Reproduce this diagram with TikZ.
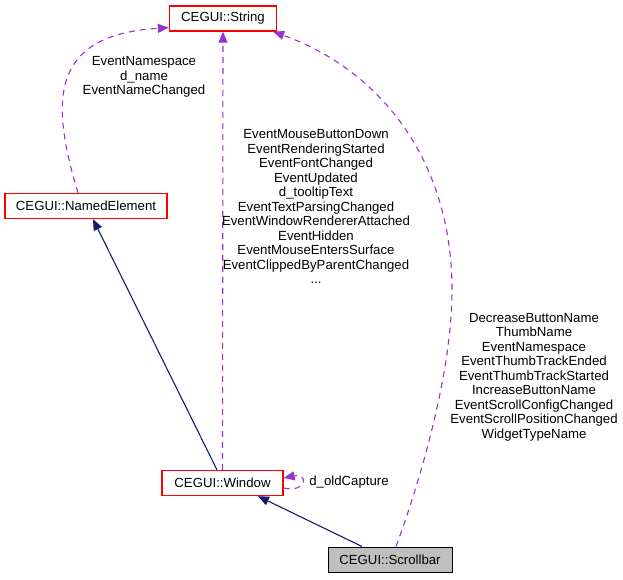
\documentclass[tikz,border=0pt]{standalone}
\usepackage{fontspec}
\setmainfont{Liberation Sans}
\usetikzlibrary{arrows.meta}

\definecolor{usecol}{RGB}{154,50,205}
\definecolor{inhcol}{RGB}{25,25,112}
\definecolor{leafgray}{RGB}{191,191,191}

\begin{document}
\begin{tikzpicture}[x=1pt,y=-1pt,
  font=\fontsize{13.2}{14.5}\selectfont,
  cls/.style={draw=red, line width=1.3pt, fill=white, inner sep=0pt, minimum height=25pt},
  leaf/.style={cls, draw=black, line width=1pt, fill=leafgray},
  usage/.style={draw=usecol, line width=1.1pt, dash pattern=on 6pt off 5pt, -{Triangle[length=11pt,width=9pt]}},
  inherit/.style={draw=inhcol, line width=1.1pt, -{Triangle[length=11pt,width=9pt]}},
  lbl/.style={align=center, inner sep=0pt}]
        \useasboundingbox (0,0) rectangle (623,579);

        % classes
        \node[cls, minimum width=107pt] (str) at (223,18.5) {CEGUI::String};
        \node[cls, minimum width=162pt] (ne) at (86,206) {CEGUI::NamedElement};
        \node[cls, minimum width=121pt] (win) at (222.5,483) {CEGUI::Window};
        \node[leaf, minimum width=124pt] (sb) at (390,559.5) {CEGUI::Scrollbar};

        % inheritance
        \draw[inherit] ([xshift=-5.5pt]win.north) -- ([xshift=7pt]ne.south);
        \draw[inherit] ([xshift=-28pt]sb.north) -- ([xshift=35.5pt]win.south);

        % usage
        \draw[usage] ([xshift=-8pt]ne.north) .. controls (50,100) and (50,35) .. ([yshift=4pt]str.south west);
        \draw[usage] (win.north) -- (str.south);
        \draw[usage] ([xshift=6pt]sb.north) .. controls (415,495) and (452,380) .. (452,290)
                     .. controls (452,160) and (380,70) .. ([xshift=-4pt]str.south east);
        \draw[usage] ([yshift=-5pt]win.east) .. controls (307,493) and (309,473) .. ([yshift=5pt]win.east);

        % member names
        \node[lbl] (nelbl) at (144,77) {EventNamespace\\d\_name\\EventNameChanged};
        \node[lbl] (winlbl) at (316,206.5) {EventMouseButtonDown\\EventRenderingStarted\\EventFontChanged\\EventUpdated\\d\_tooltipText\\EventTextParsingChanged\\EventWindowRendererAttached\\EventHidden\\EventMouseEntersSurface\\EventClippedByParentChanged\\...};
        \node[lbl] (sblbl) at (534,377) {DecreaseButtonName\\ThumbName\\EventNamespace\\EventThumbTrackEnded\\EventThumbTrackStarted\\IncreaseButtonName\\EventScrollConfigChanged\\EventScrollPositionChanged\\WidgetTypeName};
        \node[lbl] (looplbl) at (349,482) {d\_oldCapture};
\end{tikzpicture}
\end{document}
